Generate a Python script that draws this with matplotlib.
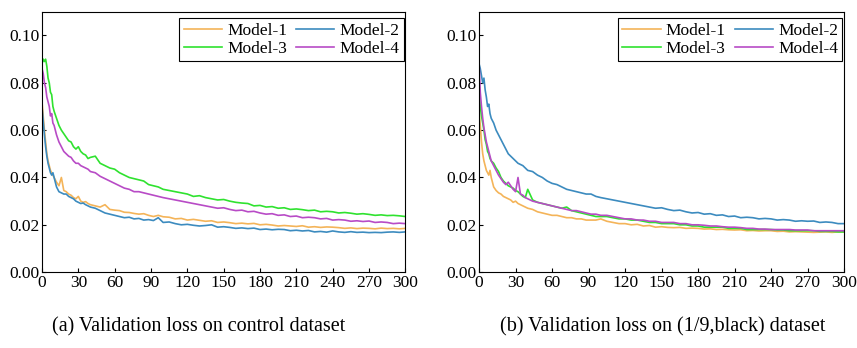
import numpy as np
import matplotlib
matplotlib.use("Agg")
import matplotlib.pyplot as plt

plt.rcParams['font.family'] = ['Liberation Serif', 'DejaVu Serif']

epochs = [0, 1, 2, 3, 4, 5, 6, 7, 8, 9, 10,
          12, 14, 16, 18, 20, 22, 24, 26, 28, 30, 32, 34, 36, 38, 40,
          44, 48, 52, 56, 60, 64, 68, 72, 76, 80, 84, 88, 92, 96, 100,
          105, 110, 115, 120, 125, 130, 135, 140, 145, 150, 155, 160, 165, 170,
          175, 180, 185, 190, 195, 200, 205, 210, 215, 220, 225, 230, 235, 240,
          245, 250, 255, 260, 265, 270, 275, 280, 285, 290, 295, 300]

# validation loss, in units of 1e-3
# (a) control dataset
a_m1 = [72, 66, 60, 55, 50, 47, 45, 43, 42, 41, 40,
        38, 36.5, 40, 34.5, 34, 33, 32.5, 31.5, 31, 32, 30, 29.5, 29.8, 29, 28.5,
        28, 27.5, 28.5, 26.5, 26.2, 26, 25.3, 25.2, 24.8, 24.5, 24.7, 24, 23.5, 24, 23.4,
        23.2, 22.5, 22.7, 22, 22.3, 21.9, 21.5, 21.7, 21, 21.2, 20.9, 20.5, 20.7, 20.4,
        20.6, 20, 20.2, 19.9, 19.5, 19.7, 19.5, 19.3, 19.6, 19, 19.2, 18.9, 19.1, 19,
        18.8, 18.5, 18.7, 18.4, 18.6, 18.5, 18.3, 18.6, 18.4, 18.5, 18.3, 18.5]
a_m2 = [70, 64, 58, 53, 49, 46, 44, 42, 41, 42, 40,
        36, 34, 33.5, 33, 33, 32, 31.5, 31, 30, 29.5, 29, 29.2, 28.5, 28, 27.5,
        27, 26, 25, 24.5, 24, 23.5, 23, 23.2, 22.5, 22.7, 22, 22.2, 21.8, 23, 21,
        21.2, 20.5, 20, 20.2, 19.8, 19.5, 19.7, 20, 19, 19.2, 18.9, 18.5, 18.7, 18.4,
        18.6, 18, 18.2, 17.9, 18.1, 18, 17.5, 17.7, 17.4, 17.6, 17, 17.2, 16.9, 17.4,
        17, 16.8, 17.1, 16.8, 16.9, 16.7, 16.8, 16.7, 16.9, 17, 16.8, 17]
a_m3 = [88, 90, 89, 90, 87, 82, 80, 76, 75, 70, 68,
        65, 62, 60, 58.5, 57, 55.5, 55, 53, 52, 53, 51, 50, 49.5, 48, 48.5,
        49, 46, 45, 44, 43.5, 42, 41, 40, 39.5, 39, 38.5, 37, 36.5, 36, 35,
        34.5, 34, 33.5, 33, 32, 32.3, 31.5, 31, 30.5, 30.7, 30, 29.5, 29.2, 29,
        28, 28.2, 27.5, 27.7, 27, 27.2, 26.5, 26.7, 26.4, 26, 26.2, 25.5, 25.7, 25.5,
        25, 25.2, 24.9, 24.5, 24.7, 24.4, 24, 24.2, 23.9, 24, 23.8, 23.5]
a_m4 = [86, 84, 80, 78, 74, 72, 70, 66, 67, 63, 62,
        58, 55, 53, 51, 50, 49, 48.5, 47, 46, 46, 45, 44.5, 44, 43.5, 42.5,
        42, 40.5, 39.5, 38.5, 37.5, 36.5, 35.5, 35, 34, 34, 33.5, 33, 32.5, 32, 31.5,
        31, 30.5, 30, 29.5, 29, 28.5, 28, 27.5, 27, 27.2, 26.5, 26, 26.2, 25.5,
        25.7, 25, 24.5, 24.7, 24, 24.2, 23.5, 23.7, 23, 23.2, 23, 22.5, 22.7, 22,
        22.2, 22, 21.5, 21.7, 21.4, 21.6, 21, 21.2, 21, 20.5, 20.7, 20.5]

# (b) (1/9,black) dataset
b_m1 = [68, 62, 55, 50, 47, 45, 43, 42, 41, 43, 40,
        36, 34.5, 33.5, 33, 32, 31.5, 31, 30.5, 29.5, 30, 29, 28.5, 28, 27.5, 27,
        26.5, 25.5, 25, 24.5, 24, 24, 23.5, 23, 23, 22.5, 22.5, 22, 22, 22, 22.5,
        21.5, 21, 20.5, 20.5, 20, 20.2, 19.5, 19.7, 19, 19.2, 18.9, 18.8, 18.9, 18.5,
        18.6, 18.5, 18.2, 18.3, 18, 18.1, 17.9, 17.8, 17.9, 17.5, 17.6, 17.4, 17.5, 17.5,
        17.2, 17.3, 17, 17.1, 17, 16.9, 16.8, 16.9, 17, 16.8, 17, 17]
b_m2 = [88, 86, 83, 80, 82, 77, 74, 70, 71, 67, 65,
        63, 60, 58, 56, 54, 52, 50, 49, 48, 47, 46, 45.5, 45, 44, 43,
        42.5, 41, 40, 38.5, 37.5, 37, 36, 35, 34.5, 34, 33.5, 33, 33, 32, 31.5,
        31, 30.5, 30, 29.5, 29, 28.5, 28, 27.5, 27, 27.2, 26.5, 26, 26.2, 25.5,
        25, 25.2, 24.5, 24.7, 24, 24.2, 23.5, 23.7, 23, 23.2, 23, 22.5, 22.7, 22.5,
        22, 22.2, 22, 21.5, 21.7, 21.5, 21.6, 21, 21.2, 21, 20.5, 20.5]
b_m3 = [75, 70, 66, 63, 60, 56, 54, 51, 50, 48, 47,
        46, 44, 42.5, 40, 38.5, 37.5, 36.5, 36, 35.5, 34.5, 34, 33, 32, 31.5, 35,
        30.5, 29.5, 29, 28.5, 28, 27.5, 27, 27.5, 26, 25.5, 25, 24.5, 24, 23.5, 23.5,
        23.5, 23, 22.5, 22.5, 22, 22, 21.5, 21, 21, 20.5, 20.5, 20.5, 20, 20,
        19.5, 19.5, 19, 19, 19, 19, 18.5, 18.5, 18.5, 18, 18, 18, 18, 18,
        17.8, 17.8, 17.5, 17.5, 17.5, 17.5, 17.5, 17.2, 17.2, 17.2, 17, 17]
b_m4 = [88, 76, 70, 65, 61, 58, 55, 53, 51, 49, 47,
        45, 43, 41, 39.5, 38, 37, 38, 36.5, 35, 34, 40, 33, 32.5, 31.5, 31,
        30, 29.5, 29, 28.5, 28, 27.5, 27, 26.5, 26, 26, 25.5, 25, 24.5, 24.5, 24,
        24, 23.5, 23, 22.5, 22.5, 22, 22, 21.5, 21.5, 21, 21, 21, 20.5, 20.5,
        20, 20, 19.8, 19.5, 19.5, 19.2, 19, 19, 18.8, 18.5, 18.5, 18.2, 18.2, 18,
        18, 18, 18, 17.8, 17.8, 17.8, 17.5, 17.5, 17.5, 17.5, 17.5, 17.5]

labels = ['Model-1', 'Model-2', 'Model-3', 'Model-4']
colors = ['#F4B459', '#3C8BBF', '#2FE22F', '#B84BC6']
captions = ['(a) Validation loss on control dataset',
            '(b) Validation loss on (1/9,black) dataset']
panel_data = [[a_m1, a_m2, a_m3, a_m4], [b_m1, b_m2, b_m3, b_m4]]
positions = [[0.049, 0.218, 0.424, 0.748], [0.559, 0.218, 0.426, 0.748]]
caption_x = [0.232, 0.773]

fig = plt.figure(figsize=(8.57, 3.48), dpi=100)
x = np.array(epochs)
for series, caption, pos, cx in zip(panel_data, captions, positions, caption_x):
    ax = fig.add_axes(pos)
    lines = []
    for y, lab, c in zip(series, labels, colors):
        ln, = ax.plot(x, np.array(y) / 1000, color=c, lw=1.2, label=lab)
        lines.append(ln)
    ax.set_xlim(0, 300)
    ax.set_ylim(0, 0.11)
    ax.set_xticks(range(0, 301, 30))
    ax.set_yticks([0, 0.02, 0.04, 0.06, 0.08, 0.10])
    ax.set_yticklabels(['0.00', '0.02', '0.04', '0.06', '0.08', '0.10'])
    ax.tick_params(direction='in', labelsize=12.5, length=3, width=0.8, pad=2)
    for s in ax.spines.values():
        s.set_linewidth(0.8)
    # row-wise legend order: 1 2 / 3 4
    order = [0, 2, 1, 3]
    leg = ax.legend([lines[i] for i in order], [labels[i] for i in order],
                    loc='upper right', bbox_to_anchor=(0.995, 0.975), ncol=2,
                    fontsize=12.5, frameon=True, fancybox=False,
                    edgecolor='black', framealpha=1, borderaxespad=0,
                    handlelength=2.2, handletextpad=0.3, columnspacing=0.5,
                    borderpad=0.25, labelspacing=0.1)
    leg.get_frame().set_linewidth(0.8)
    fig.text(cx, 0.047, caption, ha='center', va='baseline', fontsize=14.5)

fig.savefig('out.png', dpi=100)
